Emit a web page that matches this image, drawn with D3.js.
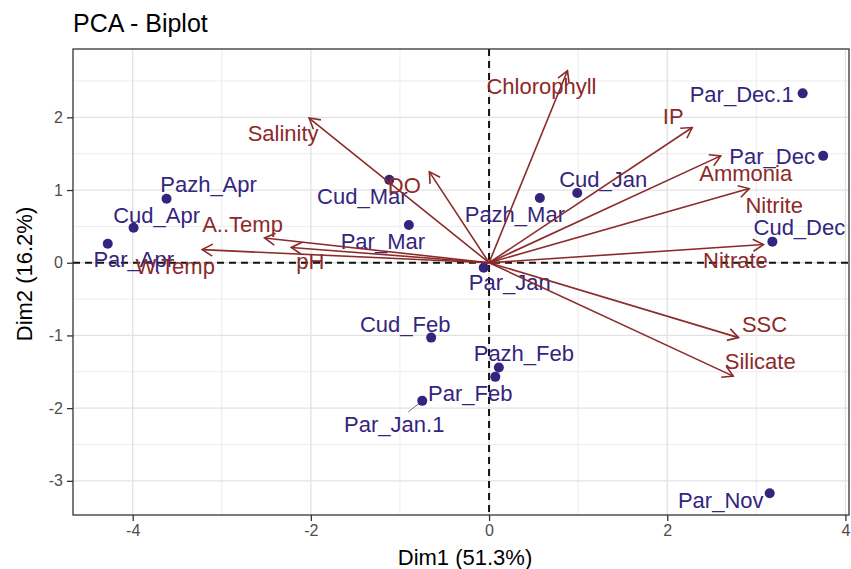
<!DOCTYPE html>
<html>
<head>
<meta charset="utf-8">
<script src="https://cdn.jsdelivr.net/npm/d3@7"></script>
<style>
  body { margin: 0; background: #fff; }
  svg text { font-family: "Liberation Sans", Arial, sans-serif; }
</style>
</head>
<body>
<svg id="chart" width="851" height="569"></svg>
<script>
// individuals (samples)
var indNames = ["Par_Dec.1", "Par_Dec", "Cud_Dec", "Cud_Jan", "Pazh_Mar", "Cud_Mar", "Par_Mar", "Par_Jan",
  "Pazh_Apr", "Cud_Apr", "Par_Apr", "Cud_Feb", "Pazh_Feb", "Par_Feb", "Par_Jan.1", "Par_Nov"];
var indX = [3.52, 3.75, 3.18, 0.99, 0.57, -1.12, -0.90, -0.06, -3.62, -3.99, -4.28, -0.65, 0.11, 0.07, -0.75, 3.15];
var indY = [2.33, 1.47, 0.29, 0.96, 0.89, 1.14, 0.52, -0.07, 0.88, 0.48, 0.26, -1.03, -1.44, -1.57, -1.90, -3.17];

// variables (arrows)
var varNames = ["Chlorophyll", "Salinity", "DO", "IP", "Ammonia", "Nitrite", "Nitrate", "SSC", "Silicate",
  "A..Temp", "W.Temp", "pH"];
var varX = [0.88, -2.02, -0.67, 2.28, 2.60, 2.92, 3.08, 2.80, 2.74, -2.52, -3.22, -2.22];
var varY = [2.64, 1.99, 1.25, 1.86, 1.47, 1.02, 0.25, -1.03, -1.56, 0.34, 0.18, 0.21];

var xTicks = [-4, -2, 0, 2, 4];
var yTicks = [-3, -2, -1, 0, 1, 2];
var xMinor = [-3, -1, 1, 3];
var yMinor = [-2.5, -1.5, -0.5, 0.5, 1.5, 2.5];

// repelled label offsets in px (label centre minus anchor)
var labelShift = {
  "Par_Dec.1": [-61, 1], "Par_Dec": [-51, 0], "Cud_Dec": [27, -15], "Cud_Jan": [26, -14],
  "Pazh_Mar": [-25, 16], "Cud_Mar": [-27, 16], "Par_Mar": [-26, 16], "Par_Jan": [26, 14],
  "Pazh_Apr": [42, -15], "Cud_Apr": [23, -13], "Par_Apr": [26, 15], "Cud_Feb": [-26, -14],
  "Pazh_Feb": [25, -14], "Par_Feb": [-25, 16], "Par_Jan.1": [-28, 23], "Par_Nov": [-49, 7],
  "Chlorophyll": [-26, 15], "Salinity": [-26, 15], "DO": [-25, 13], "IP": [-19, -11],
  "Ammonia": [25, 17], "Nitrite": [25, 16], "Nitrate": [-28, 16], "SSC": [26, -14],
  "Silicate": [27, -15], "A..Temp": [-22, -14], "W.Temp": [-27, 16], "pH": [19, 14]
};

var indColor = "#33257d";
var varColor = "#8c2a2a";

var svg = d3.select("#chart");
var panel = { left: 73, right: 849, top: 49, bottom: 515 };

var x = d3.scaleLinear().domain([-4.67, 4.04]).range([panel.left, panel.right]);
var y = d3.scaleLinear().domain([-3.47, 2.94]).range([panel.bottom, panel.top]);

// title
svg.append("text")
  .attr("x", 73).attr("y", 32)
  .attr("font-size", 25).attr("fill", "#000")
  .text("PCA - Biplot");

// grid
var grid = svg.append("g").attr("class", "grid");
grid.selectAll(".vminor").data(xMinor).join("line")
  .attr("x1", d => x(d)).attr("x2", d => x(d))
  .attr("y1", panel.top).attr("y2", panel.bottom)
  .attr("stroke", "#ececec").attr("stroke-width", 1);
grid.selectAll(".hminor").data(yMinor).join("line")
  .attr("y1", d => y(d)).attr("y2", d => y(d))
  .attr("x1", panel.left).attr("x2", panel.right)
  .attr("stroke", "#ececec").attr("stroke-width", 1);
grid.selectAll(".vmajor").data(xTicks).join("line")
  .attr("x1", d => x(d)).attr("x2", d => x(d))
  .attr("y1", panel.top).attr("y2", panel.bottom)
  .attr("stroke", "#e2e2e2").attr("stroke-width", 1.3);
grid.selectAll(".hmajor").data(yTicks).join("line")
  .attr("y1", d => y(d)).attr("y2", d => y(d))
  .attr("x1", panel.left).attr("x2", panel.right)
  .attr("stroke", "#e2e2e2").attr("stroke-width", 1.3);

// zero lines
svg.append("line")
  .attr("x1", panel.left).attr("x2", panel.right)
  .attr("y1", y(0)).attr("y2", y(0))
  .attr("stroke", "#111").attr("stroke-width", 2).attr("stroke-dasharray", "7,5");
svg.append("line")
  .attr("x1", x(0)).attr("x2", x(0))
  .attr("y1", panel.top).attr("y2", panel.bottom)
  .attr("stroke", "#111").attr("stroke-width", 2).attr("stroke-dasharray", "7,5");

// individuals
var inds = indNames.map((n, i) => ({ name: n, x: indX[i], y: indY[i] }));

// segment for the one label pushed away from its point
var jan1 = inds.find(d => d.name == "Par_Jan.1");
svg.append("line")
  .attr("x1", x(jan1.x)).attr("y1", y(jan1.y))
  .attr("x2", x(jan1.x) - 14).attr("y2", y(jan1.y) + 11)
  .attr("stroke", "#6a6a9a").attr("stroke-width", 1);

svg.append("g").selectAll("circle").data(inds).join("circle")
  .attr("cx", d => x(d.x)).attr("cy", d => y(d.y))
  .attr("r", 5).attr("fill", indColor);

svg.append("g").selectAll("text").data(inds).join("text")
  .attr("x", d => x(d.x) + labelShift[d.name][0])
  .attr("y", d => y(d.y) + labelShift[d.name][1])
  .attr("dy", "0.36em")
  .attr("text-anchor", "middle")
  .attr("font-size", 22)
  .attr("fill", indColor)
  .text(d => d.name);

// variable arrows
var vars = varNames.map((n, i) => ({ name: n, x: varX[i], y: varY[i] }));
var arrows = svg.append("g").attr("stroke", varColor).attr("stroke-width", 1.6).attr("fill", "none");
vars.forEach(d => {
  var x0 = x(0), y0 = y(0), x1 = x(d.x), y1 = y(d.y);
  arrows.append("line").attr("x1", x0).attr("y1", y0).attr("x2", x1).attr("y2", y1);
  var ang = Math.atan2(y1 - y0, x1 - x0);
  var len = 12, spread = Math.PI / 6;
  var p = d3.path();
  p.moveTo(x1 - len * Math.cos(ang - spread), y1 - len * Math.sin(ang - spread));
  p.lineTo(x1, y1);
  p.lineTo(x1 - len * Math.cos(ang + spread), y1 - len * Math.sin(ang + spread));
  arrows.append("path").attr("d", p.toString());
});

svg.append("g").selectAll("text").data(vars).join("text")
  .attr("x", d => x(d.x) + labelShift[d.name][0])
  .attr("y", d => y(d.y) + labelShift[d.name][1])
  .attr("dy", "0.36em")
  .attr("text-anchor", "middle")
  .attr("font-size", 22)
  .attr("fill", varColor)
  .text(d => d.name);

// panel border
svg.append("rect")
  .attr("x", panel.left).attr("y", panel.top)
  .attr("width", panel.right - panel.left).attr("height", panel.bottom - panel.top)
  .attr("fill", "none").attr("stroke", "#333").attr("stroke-width", 1.3);

// axes
var xAxis = svg.append("g")
  .attr("transform", `translate(0,${panel.bottom})`)
  .call(d3.axisBottom(x).tickValues(xTicks).tickSize(6).tickPadding(4).tickFormat(d3.format("d")));
var yAxis = svg.append("g")
  .attr("transform", `translate(${panel.left},0)`)
  .call(d3.axisLeft(y).tickValues(yTicks).tickSize(6).tickPadding(4).tickFormat(d3.format("d")));
[xAxis, yAxis].forEach(a => {
  a.select(".domain").remove();
  a.selectAll(".tick line").attr("stroke", "#333").attr("stroke-width", 1.3);
  a.selectAll(".tick text")
    .attr("font-size", 16).attr("fill", "#4d4d4d")
    .attr("font-family", "Liberation Sans, Arial, sans-serif");
});
// d3 uses a unicode minus; the reference uses a hyphen
svg.selectAll(".tick text").text(d => String(d));

svg.append("text")
  .attr("x", (panel.left + panel.right) / 2 + 4).attr("y", 565)
  .attr("text-anchor", "middle").attr("font-size", 22)
  .text("Dim1 (51.3%)");

svg.append("text")
  .attr("transform", `translate(32,${(panel.top + panel.bottom) / 2 - 8}) rotate(-90)`)
  .attr("text-anchor", "middle").attr("font-size", 22)
  .text("Dim2 (16.2%)");
</script>
</body>
</html>
